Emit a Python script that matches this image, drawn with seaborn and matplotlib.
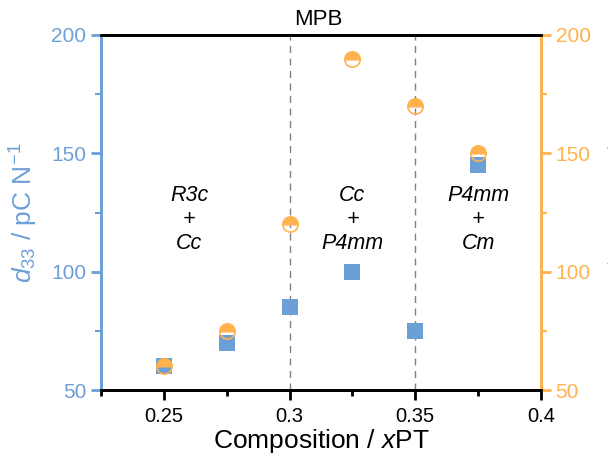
import matplotlib
matplotlib.use("Agg")
import matplotlib.pyplot as plt
import seaborn as sns
import pandas as pd
from matplotlib.ticker import MultipleLocator

sns.set_style("white")
plt.rcParams['font.family'] = ['Liberation Sans', 'DejaVu Sans']
plt.rcParams['mathtext.fontset'] = 'custom'
plt.rcParams['mathtext.rm'] = 'Liberation Sans'
plt.rcParams['mathtext.it'] = 'Liberation Sans:italic'
plt.rcParams['text.color'] = 'black'
plt.rcParams['axes.labelcolor'] = 'black'

composition = [0.25, 0.275, 0.3, 0.325, 0.35, 0.375]
d33 = [60, 70, 85, 100, 75, 145]
d33_star = [60, 75, 120, 190, 170, 150]
phase_x = [0.26, 0.325, 0.375]
phase_labels = ["R3c\n+\nCc", "Cc\n+\nP4mm", "P4mm\n+\nCm"]
boundaries = [0.3, 0.35]

blue = '#6c9fd8'
orange = '#ffb24d'

df = pd.DataFrame({'x': composition, 'd33': d33, 'd33s': d33_star})

fig = plt.figure(figsize=(6.08, 4.58), dpi=100)
ax = fig.add_axes([101/608, 1-390/458, 440/608, 355/458])
ax2 = ax.twinx()

for b in boundaries:
    ax.axvline(b, color='#808080', linestyle=(0, (5, 4)), linewidth=1.0, zorder=1)

sns.scatterplot(data=df, x='x', y='d33', marker='s', s=120, color=blue,
                linewidth=0, ax=ax, zorder=3)
sns.lineplot(data=df, x='x', y='d33s', marker='o', linestyle='none', markersize=11,
             color=orange, markerfacecolor=orange, markeredgecolor=orange,
             fillstyle='top', markerfacecoloralt='none', markeredgewidth=1.2,
             ax=ax2, zorder=4)

ax.set_xlim(0.225, 0.4)
ax.set_ylim(50, 200)
ax2.set_ylim(50, 200)

ax.xaxis.set_minor_locator(MultipleLocator(0.025))
ax.yaxis.set_major_locator(MultipleLocator(50))
ax.yaxis.set_minor_locator(MultipleLocator(25))
ax2.yaxis.set_major_locator(MultipleLocator(50))
ax2.yaxis.set_minor_locator(MultipleLocator(25))
ax.set_xticks([0.25, 0.3, 0.35, 0.4])
ax.set_xticklabels(['0.25', '0.3', '0.35', '0.4'])

for a in (ax, ax2):
    for s in a.spines.values():
        s.set_linewidth(2.0)
        s.set_color('black')
ax.spines['left'].set_color(blue)
ax2.spines['left'].set_color(blue)
ax2.spines['right'].set_color(orange)
ax.spines['right'].set_color(orange)

ax.tick_params(axis='x', which='major', direction='out', length=7, width=2, labelsize=14.5, colors='black', bottom=True, top=False, pad=5)
ax.tick_params(axis='x', which='minor', direction='out', length=4, width=2, colors='black', bottom=True, top=False)
ax.tick_params(axis='y', which='major', direction='out', length=7, width=2, colors=blue, labelsize=15, left=True, right=False)
ax.tick_params(axis='y', which='minor', direction='out', length=4, width=1.5, colors=blue, left=True, right=False)
ax2.tick_params(axis='y', which='major', direction='out', length=7, width=2, colors=orange, labelsize=15, right=True, left=False)
ax2.tick_params(axis='y', which='minor', direction='out', length=4, width=1.5, colors=orange, right=True, left=False)

ax.set_xlabel('Composition / $\\mathit{x}$PT', fontsize=19, color='black', labelpad=1)
ax.set_ylabel('$\\mathit{d}_{33}$ / pC N$^{-1}$', fontsize=19, color=blue, labelpad=8)
ax2.set_ylabel('$\\mathit{d}_{33}^{*}$ / pm V$^{-1}$', fontsize=19, color=orange, labelpad=12)

ax.text(0.3115, 1.015, 'MPB', transform=ax.get_xaxis_transform(), ha='center', va='bottom',
        fontsize=16, color='black')

for px, lab in zip(phase_x, phase_labels):
    ax.text(px, 122, lab, ha='center', va='center', fontsize=15.5, fontstyle='italic',
            linespacing=1.2, color='black')

fig.savefig('out.png', dpi=100)
